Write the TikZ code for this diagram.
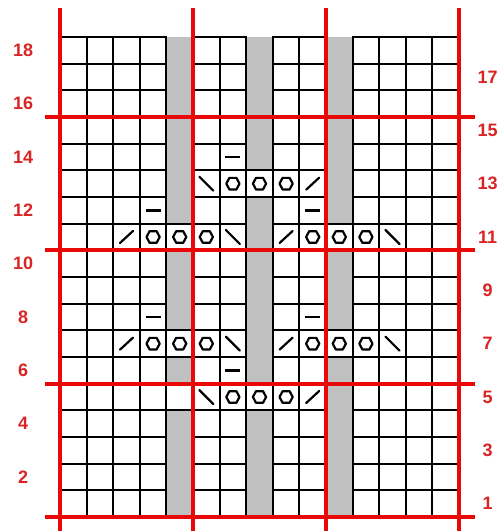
\documentclass[tikz,border=0pt]{standalone}
\usepackage{fontspec}
\setmainfont{Liberation Sans}
\definecolor{gridred}{RGB}{232,8,8}
\definecolor{labred}{RGB}{218,36,36}
\definecolor{stgray}{RGB}{192,192,192}
\tikzset{
  gridline/.style={draw=black,line width=1.9pt},
  redline/.style={draw=gridred,line width=4.3pt},
  sym/.style={draw=black,line width=2.2pt,line cap=round,line join=round},
  lab/.style={text=labred,font=\fontsize{18}{18}\selectfont\bfseries,inner sep=0pt},
  hexo/.pic={\draw[sym] (-6.6pt,0pt) -- (-3.5pt,5.8pt) -- (3.5pt,5.8pt) -- (6.6pt,0pt) -- (3.5pt,-5.8pt) -- (-3.5pt,-5.8pt) -- cycle;},
  decl/.pic={\draw[sym] (-7pt,7pt) -- (7pt,-7pt);},
  decr/.pic={\draw[sym] (-6.5pt,-6pt) -- (6.5pt,6pt);},
  purl/.pic={\draw[sym,line width=2.8pt,line cap=butt] (-7.5pt,0pt) -- (7.5pt,0pt);},
  purlthin/.pic={\draw[sym,line width=2.1pt,line cap=butt] (-7.5pt,0pt) -- (7.5pt,0pt);}
}
\begin{document}
\begin{tikzpicture}[x=1pt,y=1pt]
\useasboundingbox (0,0) rectangle (499,531);
\begin{scope}[shift={(60,14)},x=26.6pt,y=26.667pt]
  % gray columns
  \fill[stgray] (4,0) rectangle (5,4);
  \fill[stgray] (4,5) rectangle (5,6);
  \fill[stgray] (4,7) rectangle (5,10);
  \fill[stgray] (4,11) rectangle (5,18);
  \fill[stgray] (7,0) rectangle (8,4);
  \fill[stgray] (7,5) rectangle (8,12);
  \fill[stgray] (7,13) rectangle (8,18);
  \fill[stgray] (10,0) rectangle (11,6);
  \fill[stgray] (10,7) rectangle (11,10);
  \fill[stgray] (10,11) rectangle (11,18);
  % white cells
  \foreach \c in {1,2,3,4,6,7,9,10,12,13,14,15}
    \foreach \r in {1,...,18}
      \draw[gridline] (\c-1,\r-1) rectangle (\c,\r);
  \foreach \c/\r in {5/5,5/7,5/11,8/5,8/13,11/7,11/11}
    \draw[gridline] (\c-1,\r-1) rectangle (\c,\r);
  % symbols
  \foreach \c/\r in {7/14,4/12,10/12,7/6}
    \pic at (\c-0.5,\r-0.5) {purl};
  \foreach \c/\r in {4/8,10/8}
    \pic at (\c-0.5,\r-0.5) {purlthin};
  \foreach \c/\r in {7/13,8/13,9/13,4/11,5/11,6/11,10/11,11/11,12/11,4/7,5/7,6/7,10/7,11/7,12/7,7/5,8/5,9/5}
    \pic at (\c-0.5,\r-0.5) {hexo};
  \foreach \c/\r in {6/13,7/11,13/11,7/7,13/7,6/5}
    \pic at (\c-0.5,\r-0.5) {decl};
  \foreach \c/\r in {10/13,3/11,9/11,3/7,9/7,10/5}
    \pic at (\c-0.5,\r-0.5) {decr};
  % red lines
  \foreach \x in {0,5,10,15}
    \draw[redline] (\x,-0.7) -- (\x,19.09);
  \foreach \y in {0,5,10,15}
    \draw[redline] (-0.56,\y) -- (15.6,\y);
  % labels
  \foreach \r in {2,4,...,18}
    \node[lab] (lab\r) at (-1.39,\r-0.5) {\r};
  \foreach \r in {1,3,...,17}
    \node[lab] (lab\r) at (16.08,\r-0.5) {\r};
\end{scope}
\end{tikzpicture}
\end{document}
